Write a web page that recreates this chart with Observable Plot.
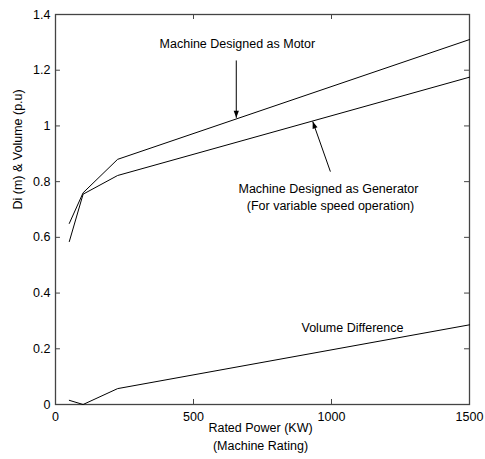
<!DOCTYPE html>
<html><head><meta charset="utf-8">
<script src="https://cdn.jsdelivr.net/npm/d3@7"></script>
<script src="https://cdn.jsdelivr.net/npm/@observablehq/plot@0.6"></script>
<style>body{margin:0;background:#fff} svg{display:block}</style>
</head><body><div id="chart"></div>
<script>
// Data
const power = [50, 100, 225, 1500];
const motor = [0.65, 0.76, 0.88, 1.31];
const generator = [0.585, 0.755, 0.822, 1.175];
const volumeDiff = [0.015, 0.0, 0.057, 0.286];

const xTicks = [0, 500, 1000, 1500];
const xTickLabels = ["0", "500", "1000", "1500"];
const yTicks = [0, 0.2, 0.4, 0.6, 0.8, 1.0, 1.2, 1.4];
const yTickLabels = ["0", "0.2", "0.4", "0.6", "0.8", "1", "1.2", "1.4"];

const noteText = ["Machine Designed as Motor", "Machine Designed as Generator", " (For variable speed operation)", "Volume Difference"];
const noteX = [659, 989, 990, 1076];
const noteY = [1.294, 0.773, 0.7125, 0.276];

const arrowFromX = [655, 996];
const arrowFromY = [1.235, 0.836];
const arrowToX = [655, 932];
const arrowToY = [1.029, 1.016];

const xLabel = ["Rated Power (KW)", "(Machine Rating)"];
const yLabel = "Di (m) & Volume (p.u)";

const W = 485, H = 459, ML = 55, MR = 16, MT = 14, MB = 55;
const xDomain = [0, 1500], yDomain = [0, 1.4];

const rows = [];
power.forEach((p, i) => {
  rows.push({series: "Motor", x: p, y: motor[i]});
  rows.push({series: "Generator", x: p, y: generator[i]});
  rows.push({series: "Volume Difference", x: p, y: volumeDiff[i]});
});
const notes = noteText.map((t, i) => ({t, x: noteX[i], y: noteY[i]}));
const kx = (W - ML - MR) / (xDomain[1] - xDomain[0]);
const ky = (H - MT - MB) / (yDomain[1] - yDomain[0]);
const arrows = arrowFromX.map((_, i) => ({
  x1: arrowFromX[i], y1: arrowFromY[i], x2: arrowToX[i], y2: arrowToY[i],
  angle: Math.atan2((arrowToX[i] - arrowFromX[i]) * kx, (arrowToY[i] - arrowFromY[i]) * ky) * 180 / Math.PI
}));
const headShape = {
  draw(context) {
    context.moveTo(0, 0);
    context.lineTo(-2.6, 7);
    context.lineTo(2.6, 7);
    context.closePath();
  }
};

const font = "'Liberation Sans', Arial, sans-serif";
const axisColor = "#444";
const fs = 12.5;

const chart = Plot.plot({
  width: W,
  height: H,
  marginLeft: ML,
  marginRight: MR,
  marginTop: MT,
  marginBottom: MB,
  style: {fontFamily: font, fontSize: fs + "px", background: "#fff", color: "#000"},
  x: {domain: xDomain},
  y: {domain: yDomain},
  marks: [
    Plot.frame({stroke: axisColor, strokeWidth: 1.3}),
    // inward tick marks (bottom, top, left, right)
    Plot.ruleX(xTicks, {x: d => d, y1: 0, y2: 0.018, stroke: axisColor}),
    Plot.ruleX(xTicks, {x: d => d, y1: 1.4 - 0.018, y2: 1.4, stroke: axisColor}),
    Plot.ruleY(yTicks, {y: d => d, x1: 0, x2: 18, stroke: axisColor}),
    Plot.ruleY(yTicks, {y: d => d, x1: 1500 - 18, x2: 1500, stroke: axisColor}),
    Plot.axisX({ticks: xTicks, tickSize: 0, tickPadding: 8, tickFormat: (d) => xTickLabels[xTicks.indexOf(d)], label: null, fontSize: fs}),
    Plot.axisY({ticks: yTicks, tickSize: 0, tickPadding: 5, tickFormat: (d) => yTickLabels[yTicks.findIndex(v => Math.abs(v - d) < 1e-9)], label: null, fontSize: fs}),
    Plot.line(rows, {x: "x", y: "y", z: "series", stroke: "#000", strokeWidth: 1}),
    Plot.link(arrows, {x1: "x1", y1: "y1", x2: "x2", y2: "y2", stroke: "#000", strokeWidth: 1}),
    Plot.vector(arrows, {x: "x2", y: "y2", rotate: "angle", shape: headShape, anchor: "start", fill: "#000", stroke: "none"}),
    Plot.text(notes, {x: "x", y: "y", text: "t", fontSize: fs, fill: "#000", textAnchor: "middle"}),
    Plot.text([xLabel[0]], {frameAnchor: "bottom", dy: 27, dx: -2, text: d => d, fontSize: fs, fill: "#000"}),
    Plot.text([xLabel[1]], {frameAnchor: "bottom", dy: 45, dx: -2, text: d => d, fontSize: fs, fill: "#000"}),
    Plot.text([yLabel], {frameAnchor: "left", dx: -38, rotate: -90, text: d => d, fontSize: fs, fill: "#000"})
  ]
});
document.getElementById("chart").appendChild(chart);
</script>
</body></html>
